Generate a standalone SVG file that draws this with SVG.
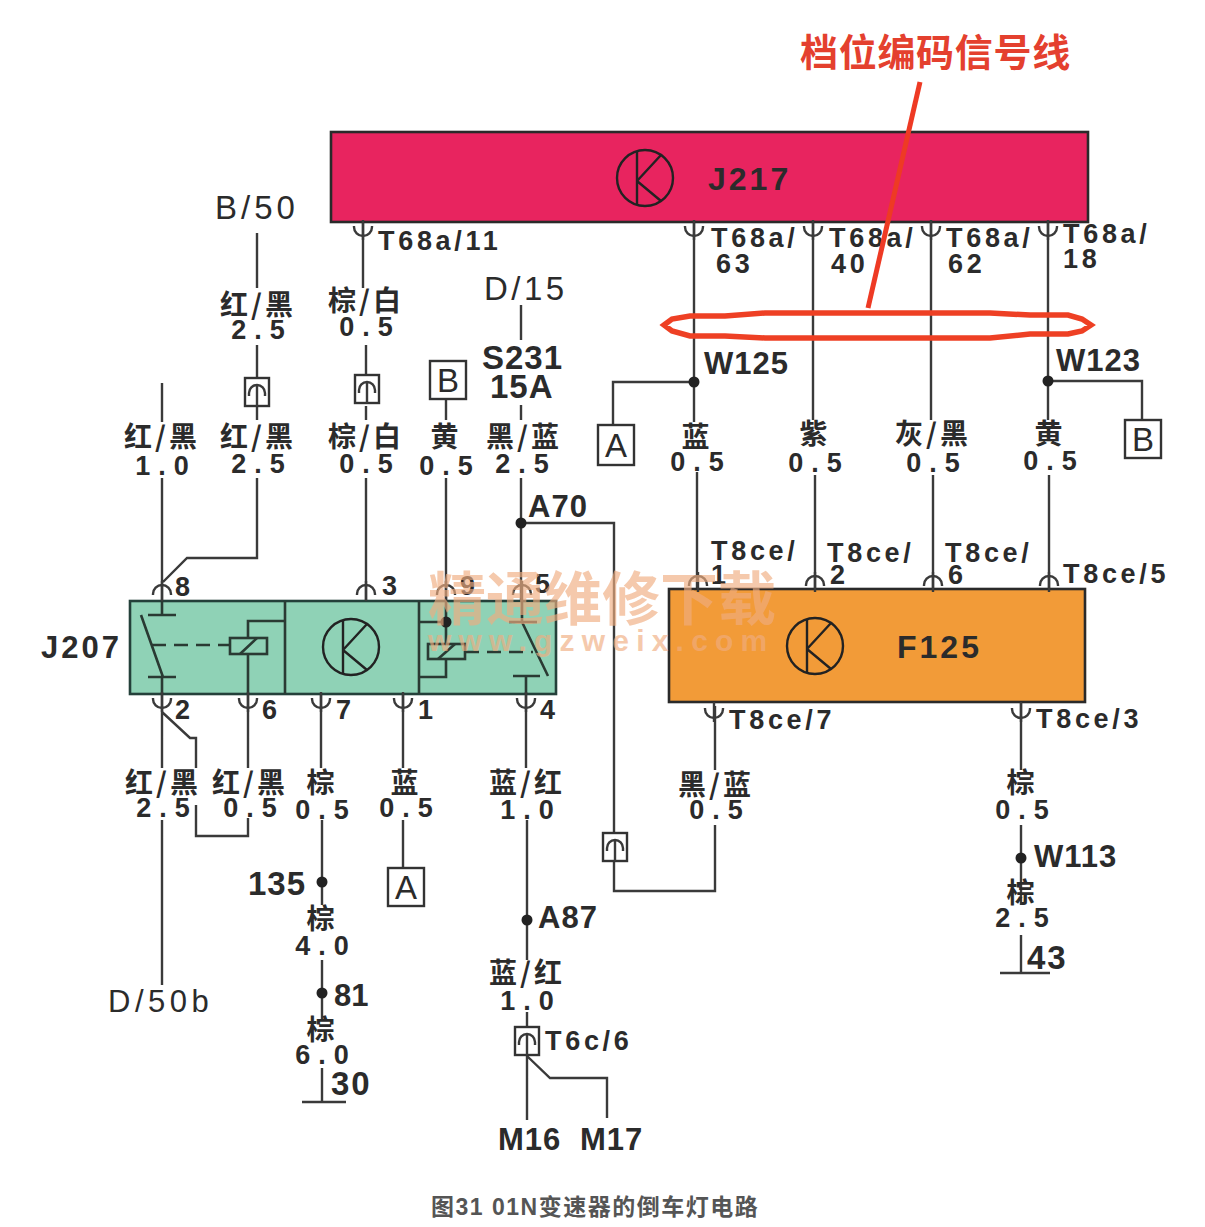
<svg xmlns="http://www.w3.org/2000/svg" width="1205" height="1227" viewBox="0 0 1205 1227">
<style>
text{font-family:"Liberation Sans","Noto Sans CJK SC",sans-serif;font-weight:700;fill:#2b2b2b}
.w{fill:none;stroke:#3a3a3a;stroke-width:2.4;stroke-linejoin:miter}
.b{fill:none;stroke:#2a3a33;stroke-width:2.6}
.t{font-size:27px;letter-spacing:3.7px}
.n{font-size:32px;letter-spacing:3px}
.c{font-size:28px;letter-spacing:3px;text-anchor:middle;font-family:"Noto Sans CJK SC",sans-serif}
.v{font-size:27px;letter-spacing:8px;text-anchor:middle;transform:translateX(4px)}
.p{font-size:27px}
.box{fill:#fff;stroke:#333;stroke-width:2.4}
.lab{font-size:33px;text-anchor:middle;font-weight:400}
.r{font-weight:400}
.d{fill:#222}
</style>
<defs>
<path id="cup" class="w" d="M-9,-6 v1 a9,9 0 0 0 18,0 v-1 M0,-12 V8"/>
<path id="cap" class="w" d="M-9,6 v-1 a9,9 0 0 1 18,0 v1 M0,-8 V12"/>
<g id="kk"><circle r="28" fill="none" stroke="#222" stroke-width="2.4"/><path d="M-8,-27 V27 M-8,3 L16,-23 M-8,3 L16,23" fill="none" stroke="#222" stroke-width="2.4"/></g>
<g id="plug"><rect class="box" x="-12" y="-14" width="24" height="28"/><path class="w" d="M-8,4 v-3 a8,8 0 0 1 16,0 v3 M0,-7 V14"/></g>
</defs>
<rect width="1205" height="1227" fill="#fff"/>

<g id="connectors">
<path class="w" d="M257,233 V288 M257,345 V378 M257,406 V420 M257,478 V558 H187 L163,582 M162,383 V422 M162,478 V601"/>
<path class="w" d="M363,222 V288 M366,345 V378 M366,406 V420 M366,478 V601"/>
<path class="w" d="M446,399 V420 M446,478 V601"/>
<path class="w" d="M521,305 V340 M521,405 V420 M521,478 V601 M521,523 H614 V832 M614,862 V891 H715 V825 M715,706 V770"/>
<path class="w" d="M694,222 V422 M694,382 H613 V425 M697,472 V589 M813,222 V420 M815,475 V589 M931,222 V420 M933,475 V589 M1048,222 V420 M1048,381 H1142 V420 M1049,475 V589"/>
<path class="w" d="M162,694 V768 M162,712 L190,738 H196 V768 M196,805 V836 H248 V818 M248,694 V768 M162,820 V985"/>
<path class="w" d="M321,694 V768 M322,820 V905 M322,960 V1020 M322,1068 V1102 M302,1102 H346"/>
<path class="w" d="M403,694 V768 M403,820 V868"/>
<path class="w" d="M526,694 V768 M527,820 V960 M527,1012 V1120 M527,1056 L550,1078 H607 V1118"/>
<path class="w" d="M1021,702 V770 M1021,825 V905 M1021,935 V973 M1000,973 H1050"/>
<circle class="d" cx="521" cy="523" r="5.5"/>
<circle class="d" cx="694" cy="382" r="5.5"/>
<circle class="d" cx="1048" cy="381" r="5.5"/>
<circle class="d" cx="322" cy="882" r="5.5"/>
<circle class="d" cx="322" cy="993" r="5.5"/>
<circle class="d" cx="527" cy="920" r="5.5"/>
<circle class="d" cx="1021" cy="858" r="5.5"/>
</g>

<g id="J217">
<rect x="331" y="132" width="757" height="90" fill="#e8245f" stroke="#2a2a2a" stroke-width="2.6"/>
<use href="#kk" x="645" y="178"/>
<text class="n" x="708" y="190">J217</text>
<use href="#cup" x="363" y="232"/><use href="#cup" x="694" y="232"/><use href="#cup" x="813" y="232"/><use href="#cup" x="931" y="232"/><use href="#cup" x="1048" y="232"/>
<text class="t" x="378" y="250">T68a/11</text>
<text class="t" x="711" y="247">T68a/</text><text class="t" x="716" y="273">63</text>
<text class="t" x="829" y="247">T68a/</text><text class="t" x="831" y="273">40</text>
<text class="t" x="946" y="247">T68a/</text><text class="t" x="948" y="273">62</text>
<text class="t" x="1063" y="243">T68a/</text><text class="t" x="1063" y="268">18</text>
</g>

<g id="J207">
<rect x="130" y="601" width="426" height="93" fill="#8fd2b6" stroke="#24403a" stroke-width="2.6"/>
<path class="b" d="M285,601 V694 M419,601 V694"/>
<path class="b" d="M162,601 V615 M148,615 H176 M141,615 L163,677 M148,677 H176 M162,677 V694"/>
<path class="b" d="M152,645 H230" stroke-dasharray="14 8"/>
<rect class="b" x="230" y="638" width="37" height="16"/>
<path class="b" d="M240,654 L257,638 M248,654 V694 M248,638 V621 H285"/>
<use href="#kk" x="351" y="647"/>
<path class="b" d="M419,622 H446 M446,601 V644 M446,659 V677 H419"/>
<circle class="d" cx="446" cy="622" r="5.5"/>
<rect class="b" x="428" y="644" width="37" height="15"/>
<path class="b" d="M438,659 L455,644"/>
<path class="b" d="M465,652 H533" stroke-dasharray="14 8"/>
<path class="b" d="M509,622 H537 M522,601 V622 M522,622 L548,676 M513,676 H540 M526,676 V694"/>
<use href="#cap" x="162" y="589"/><use href="#cap" x="366" y="589"/><use href="#cap" x="446" y="589"/><use href="#cap" x="522" y="589"/>
<use href="#cup" x="162" y="704"/><use href="#cup" x="248" y="704"/><use href="#cup" x="321" y="704"/><use href="#cup" x="403" y="704"/><use href="#cup" x="526" y="704"/>
<text class="p" x="175" y="596">8</text><text class="p" x="382" y="595">3</text><text class="p" x="460" y="595">9</text><text class="p" x="535" y="593">5</text>
<text class="p" x="175" y="719">2</text><text class="p" x="262" y="719">6</text><text class="p" x="336" y="719">7</text><text class="p" x="418" y="719">1</text><text class="p" x="540" y="719">4</text>
<text x="41" y="658" font-size="31" letter-spacing="3">J207</text>
</g>

<g id="F125">
<rect x="669" y="589" width="416" height="113" fill="#f29b38" stroke="#2a2a2a" stroke-width="2.6"/>
<use href="#kk" x="815" y="646"/>
<text class="n" x="897" y="658">F125</text>
<use href="#cap" x="698" y="580"/><use href="#cap" x="815" y="580"/><use href="#cap" x="933" y="580"/><use href="#cap" x="1049" y="580"/>
<use href="#cup" x="714" y="714"/><use href="#cup" x="1021" y="714"/>
<text class="t" x="711" y="560">T8ce/</text><text class="t" x="711" y="584">1</text>
<text class="t" x="827" y="562">T8ce/</text><text class="t" x="830" y="584">2</text>
<text class="t" x="945" y="562">T8ce/</text><text class="t" x="948" y="584">6</text>
<text class="t" x="1063" y="583">T8ce/5</text>
<text class="t" x="729" y="729">T8ce/7</text>
<text class="t" x="1036" y="728">T8ce/3</text>
</g>

<g id="plugs">
<use href="#plug" x="257" y="392"/><use href="#plug" x="367" y="389"/><use href="#plug" x="615" y="847"/><use href="#plug" x="527" y="1041"/>
</g>
<g id="boxes">
<rect class="box" x="430" y="361" width="36" height="38"/><text x="448" y="392" class="lab">B</text>
<rect class="box" x="598" y="425" width="36" height="40"/><text x="616" y="457" class="lab">A</text>
<rect class="box" x="1125" y="420" width="36" height="38"/><text x="1143" y="451" class="lab">B</text>
<rect class="box" x="388" y="868" width="36" height="38"/><text x="406" y="899" class="lab">A</text>
</g>

<g id="labels">
<text class="r" x="215" y="219" font-size="33" letter-spacing="4">B/50</text>
<text class="c" x="258" y="315">红/黑</text><text class="v" x="258" y="339">2.5</text>
<text class="c" x="366" y="311">棕/白</text><text class="v" x="366" y="336">0.5</text>
<text class="r" x="484" y="300" font-size="33" letter-spacing="3.5">D/15</text>
<text x="482" y="369" font-size="33" letter-spacing="1">S231</text>
<text x="490" y="398" font-size="33" letter-spacing="1">15A</text>
<text class="c" x="162" y="447">红/黑</text><text class="v" x="162" y="475">1.0</text>
<text class="c" x="258" y="447">红/黑</text><text class="v" x="258" y="473">2.5</text>
<text class="c" x="366" y="447">棕/白</text><text class="v" x="366" y="473">0.5</text>
<text class="c" x="446" y="447">黄</text><text class="v" x="446" y="475">0.5</text>
<text class="c" x="524" y="447">黑/蓝</text><text class="v" x="522" y="473">2.5</text>
<text x="528" y="517" font-size="31" letter-spacing="1">A70</text>
<text x="704" y="374" font-size="31" letter-spacing="1">W125</text>
<text x="1056" y="371" font-size="31" letter-spacing="1">W123</text>
<text class="c" x="697" y="447">蓝</text><text class="v" x="697" y="471">0.5</text>
<text class="c" x="815" y="444">紫</text><text class="v" x="815" y="472">0.5</text>
<text class="c" x="933" y="444">灰/黑</text><text class="v" x="933" y="472">0.5</text>
<text class="c" x="1050" y="444">黄</text><text class="v" x="1050" y="470">0.5</text>
<text class="c" x="163" y="793">红/黑</text><text class="v" x="163" y="817">2.5</text>
<text class="c" x="250" y="793">红/黑</text><text class="v" x="250" y="817">0.5</text>
<text class="c" x="322" y="793">棕</text><text class="v" x="322" y="819">0.5</text>
<text class="c" x="406" y="793">蓝</text><text class="v" x="406" y="817">0.5</text>
<text class="c" x="527" y="793">蓝/红</text><text class="v" x="527" y="819">1.0</text>
<text class="c" x="716" y="795">黑/蓝</text><text class="v" x="716" y="819">0.5</text>
<text class="c" x="1022" y="793">棕</text><text class="v" x="1022" y="819">0.5</text>
<text x="1034" y="867" font-size="31" letter-spacing="1">W113</text>
<text class="c" x="1022" y="903">棕</text><text class="v" x="1022" y="927">2.5</text>
<text x="1027" y="969" font-size="33" letter-spacing="2">43</text>
<text x="248" y="895" font-size="33" letter-spacing="1">135</text>
<text class="c" x="322" y="929">棕</text><text class="v" x="322" y="955">4.0</text>
<text x="334" y="1006" font-size="31">81</text>
<text class="c" x="322" y="1040">棕</text><text class="v" x="322" y="1064">6.0</text>
<text x="331" y="1095" font-size="33" letter-spacing="2">30</text>
<text class="r" x="108" y="1012" font-size="31" letter-spacing="4.5">D/50b</text>
<text x="538" y="928" font-size="31" letter-spacing="1">A87</text>
<text class="c" x="527" y="983">蓝/红</text><text class="v" x="527" y="1010">1.0</text>
<text class="t" x="545" y="1050">T6c/6</text>
<text x="498" y="1150" font-size="31" letter-spacing="1">M16</text>
<text x="580" y="1150" font-size="31" letter-spacing="1">M17</text>
</g>

<g id="annotation">
<path d="M920,82 L868,308" fill="none" stroke="#ee3a24" stroke-width="5"/>
<path d="M664,325 L672,319 L690,316 H725 L765,313 H990 L1030,315 H1068 L1082,319 L1091,325 L1082,331 L1068,334 H1030 L990,338 H765 L725,336 H690 L672,331 Z" fill="none" stroke="#ee4024" stroke-width="5.5"/>
<text x="800" y="66" font-size="38" letter-spacing="0.7" style="fill:#e4402e;font-family:'Noto Sans CJK SC',sans-serif">档位编码信号线</text>
</g>

<g id="watermark" opacity="0.65">
<text x="428" y="620" font-size="58" style="fill:#f0ad80;font-family:'Noto Sans CJK SC',sans-serif;font-weight:700">精通维修下载</text>
<text x="428" y="651" font-size="30" letter-spacing="7.2" style="fill:#f0ad80">www.gzweix.com</text>
</g>

<text x="431" y="1215" font-size="23" letter-spacing="1.5" style="fill:#555">图31 01N变速器的倒车灯电路</text>
</svg>
